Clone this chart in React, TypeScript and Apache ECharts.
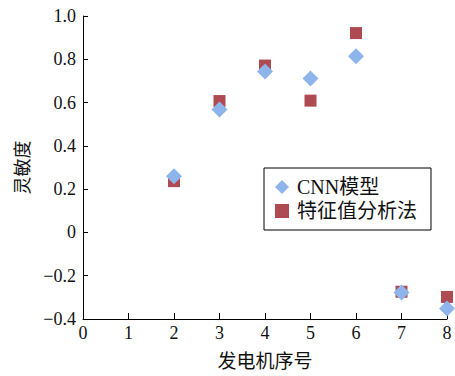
import React, { useEffect, useRef } from "react";
import * as echarts from "echarts";

const generators = [2, 3, 4, 5, 6, 7, 8];
const cnnValues = [0.26, 0.568, 0.743, 0.711, 0.814, -0.278, -0.352];
const eigenValues = [0.237, 0.607, 0.771, 0.609, 0.921, -0.274, -0.298];
const seriesNames = ["CNN模型", "特征值分析法"];
const xName = "发电机序号";
const yName = "灵敏度";

const serif = "'Liberation Serif', 'Times New Roman', 'Noto Sans CJK SC', serif";

export default function App() {
  const ref = useRef<HTMLDivElement>(null);
  useEffect(() => {
    const chart = echarts.init(ref.current!, null, { renderer: "svg", width: 455, height: 376 });
    const fmtY = (v: number) => {
      const r = Math.round(v * 10) / 10;
      if (r === 0) return "0";
      const s = Math.abs(r).toFixed(1);
      return r < 0 ? "\u2212" + s : s;
    };
    chart.setOption({
      animation: false,
      backgroundColor: "#ffffff",
      grid: { left: 83, top: 16, right: 8, bottom: 53 },
      xAxis: {
        type: "value",
        min: 0,
        max: 8,
        interval: 1,
        name: xName,
        nameLocation: "middle",
        nameGap: 33,
        nameTextStyle: { fontFamily: serif, fontSize: 19, color: "#111" },
        axisLine: { show: true, onZero: false, lineStyle: { color: "#000", width: 1 } },
        axisTick: { show: true, inside: true, length: 6, lineStyle: { color: "#000" } },
        axisLabel: { fontFamily: serif, fontSize: 18, color: "#111", margin: 5 },
        splitLine: { show: false },
      },
      yAxis: {
        type: "value",
        min: -0.4,
        max: 1.0,
        interval: 0.2,
        name: yName,
        nameLocation: "middle",
        nameGap: 48,
        nameRotate: 90,
        nameTextStyle: { fontFamily: serif, fontSize: 18, color: "#111" },
        axisLine: { show: true, onZero: false, lineStyle: { color: "#000", width: 1 } },
        axisTick: { show: true, inside: true, length: 5, lineStyle: { color: "#000" } },
        axisLabel: { fontFamily: serif, fontSize: 18, color: "#111", margin: 7, formatter: fmtY },
        splitLine: { show: false },
      },
      legend: {
        data: [
          { name: seriesNames[0], icon: "diamond" },
          { name: seriesNames[1], icon: "rect" },
        ],
        orient: "vertical",
        left: 264,
        top: 168,
        padding: [9, 14, 9, 11],
        itemGap: 4,
        itemWidth: 14,
        itemHeight: 14,
        borderColor: "#000",
        borderWidth: 1,
        backgroundColor: "#fff",
        textStyle: { fontFamily: serif, fontSize: 20, color: "#111", padding: [0, 0, 0, 3] },
      },
      series: [
        {
          name: seriesNames[1],
          type: "scatter",
          symbol: "rect",
          symbolSize: 12,
          itemStyle: { color: "#AE4A52", opacity: 1 },
          data: generators.map((g, i) => [g, eigenValues[i]]),
          z: 2,
        },
        {
          name: seriesNames[0],
          type: "scatter",
          symbol: "diamond",
          symbolSize: 16,
          itemStyle: { color: "#8DB5EC", opacity: 1 },
          data: generators.map((g, i) => [g, cnnValues[i]]),
          z: 3,
        },
      ],
    });
    return () => chart.dispose();
  }, []);
  return (
    <div
      ref={ref}
      style={{ position: "fixed", left: 0, top: 0, width: 455, height: 376 }}
    />
  );
}
